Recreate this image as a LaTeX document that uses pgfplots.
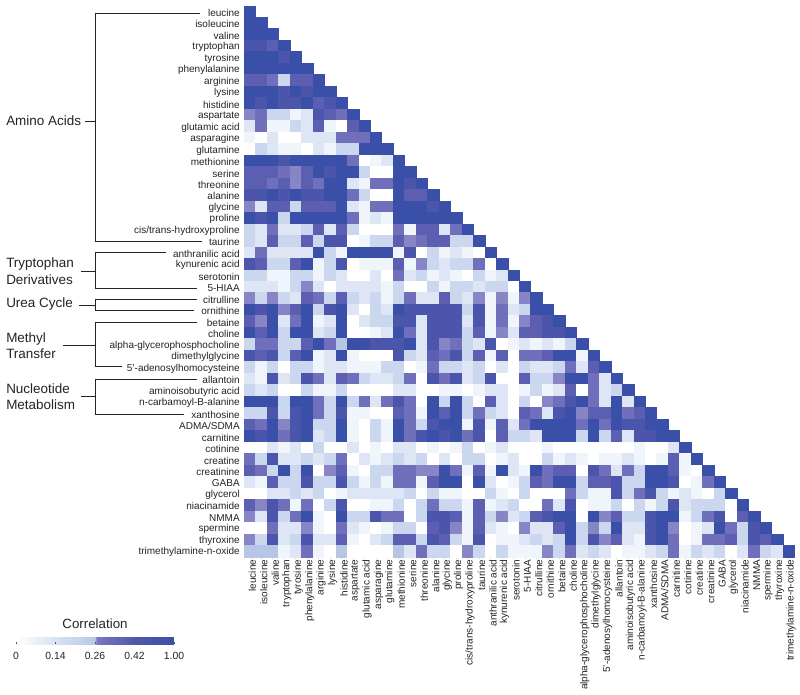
\documentclass[border=0pt]{standalone}
\usepackage{pgfplots}
\usepackage{fontspec}
\setmainfont{Liberation Sans}
\pgfplotsset{compat=1.18}
\definecolor{ink}{RGB}{35,35,40}
\pgfplotsset{
  colormap={corr}{rgb255(0)=(255,255,255); rgb255(4)=(240,244,251); rgb255(9)=(222,230,245); rgb255(15)=(202,215,238); rgb255(22)=(184,198,230); rgb255(26)=(175,190,226); rgb255(27)=(140,138,199); rgb255(33)=(112,111,187); rgb255(40)=(91,94,177); rgb255(55)=(74,85,171); rgb255(100)=(58,80,168)},
  colormap={corrbar}{rgb255(0)=(255,255,255); rgb255(25)=(215,226,244); rgb255(50)=(185,200,232); rgb255(51)=(122,120,190); rgb255(75)=(80,88,172); rgb255(100)=(58,80,168)},
  cell/.style={scatter, only marks, mark=square*, mark size=4.3pt, point meta=explicit, scatter src=explicit, scatter/use mapped color={draw=mapped color, fill=mapped color}, mark options={line width=0.05pt}},
}
\newcommand\rowcells[2]{\addplot[cell] table[row sep=\\,header=false,x expr=\coordindex,y expr=#1,meta index=0]{#2};}
\begin{document}
\begin{tikzpicture}[x=0.75pt,y=-0.75pt]
\path[use as bounding box] (0,0) rectangle (800,695);
\begin{axis}[
  at={(183pt,-417.4pt)}, anchor=south west,
  scale only axis, width=412.5pt, height=413.25pt,
  xmin=-0.5, xmax=47.5, ymin=-0.5, ymax=47.5, y dir=reverse,
  colormap name=corr, point meta min=0, point meta max=100,
  clip=false,
  axis line style={draw=none},
  xtick={0,...,47}, ytick={0,...,47},
  tick align=outside, major tick length=1.5pt,
  x tick style={draw=gray!40,line width=0.3pt}, y tick style={draw=none},
  tick pos=left,
  xticklabels={leucine,isoleucine,valine,tryptophan,tyrosine,phenylalanine,arginine,lysine,histidine,aspartate,glutamic acid,asparagine,glutamine,methionine,serine,threonine,alanine,glycine,proline,cis/trans-hydroxyproline,taurine,anthranilic acid,kynurenic acid,serotonin,5-HIAA,citrulline,ornithine,betaine,choline,alpha-glycerophosphocholine,dimethylglycine,5'-adenosylhomocysteine,allantoin,aminoisobutyric acid,n-carbamoyl-B-alanine,xanthosine,ADMA/SDMA,carnitine,cotinine,creatine,creatinine,GABA,glycerol,niacinamide,NMMA,spermine,thyroxine,trimethylamine-n-oxide},
  yticklabels={leucine,isoleucine,valine,tryptophan,tyrosine,phenylalanine,arginine,lysine,histidine,aspartate,glutamic acid,asparagine,glutamine,methionine,serine,threonine,alanine,glycine,proline,cis/trans-hydroxyproline,taurine,anthranilic acid,kynurenic acid,serotonin,5-HIAA,citrulline,ornithine,betaine,choline,alpha-glycerophosphocholine,dimethylglycine,5'-adenosylhomocysteine,allantoin,aminoisobutyric acid,n-carbamoyl-B-alanine,xanthosine,ADMA/SDMA,carnitine,cotinine,creatine,creatinine,GABA,glycerol,niacinamide,NMMA,spermine,thyroxine,trimethylamine-n-oxide},
  x tick label style={rotate=90, anchor=east, inner sep=0pt, font=\fontsize{7.5}{9}\selectfont, text=ink, yshift=-2pt, xshift=-0.75pt},
  y tick label style={anchor=east, inner sep=0pt, font=\fontsize{7.5}{9}\selectfont, text=ink, xshift=-1.5pt, yshift=-1.1pt},
]
\rowcells{0}{100\\}
\rowcells{1}{100\\100\\}
\rowcells{2}{100\\100\\100\\}
\rowcells{3}{55\\55\\40\\100\\}
\rowcells{4}{100\\100\\100\\55\\100\\}
\rowcells{5}{100\\100\\100\\100\\100\\100\\}
\rowcells{6}{40\\40\\33\\15\\40\\40\\100\\}
\rowcells{7}{100\\100\\100\\55\\100\\55\\100\\100\\}
\rowcells{8}{100\\55\\100\\55\\55\\100\\40\\55\\100\\}
\rowcells{9}{28\\33\\15\\15\\4\\9\\55\\40\\33\\100\\}
\rowcells{10}{9\\33\\4\\4\\15\\9\\40\\4\\0\\40\\100\\}
\rowcells{11}{4\\0\\9\\0\\0\\9\\9\\9\\33\\33\\33\\100\\}
\rowcells{12}{0\\15\\9\\4\\4\\0\\9\\4\\15\\15\\100\\100\\100\\}
\rowcells{13}{100\\100\\100\\55\\100\\100\\100\\100\\100\\33\\0\\4\\9\\100\\}
\rowcells{14}{40\\40\\40\\33\\28\\40\\100\\55\\100\\100\\15\\0\\0\\100\\100\\}
\rowcells{15}{40\\40\\33\\40\\28\\40\\33\\100\\100\\9\\4\\33\\33\\100\\55\\100\\}
\rowcells{16}{55\\55\\100\\55\\100\\55\\55\\100\\100\\33\\15\\0\\0\\100\\40\\40\\100\\}
\rowcells{17}{28\\9\\40\\40\\15\\40\\40\\40\\100\\9\\4\\33\\33\\100\\100\\100\\55\\100\\}
\rowcells{18}{100\\55\\100\\15\\100\\100\\100\\100\\100\\33\\4\\9\\4\\100\\100\\100\\100\\100\\100\\}
\rowcells{19}{15\\9\\33\\9\\9\\15\\40\\9\\40\\15\\0\\0\\0\\33\\4\\40\\40\\9\\33\\100\\}
\rowcells{20}{15\\9\\40\\15\\15\\40\\15\\55\\55\\0\\4\\15\\15\\40\\28\\33\\40\\40\\15\\15\\100\\}
\rowcells{21}{9\\33\\9\\9\\9\\9\\100\\15\\4\\100\\100\\100\\100\\4\\55\\0\\15\\4\\9\\4\\0\\100\\}
\rowcells{22}{55\\40\\15\\15\\40\\100\\4\\15\\55\\0\\4\\4\\4\\40\\4\\28\\15\\9\\15\\15\\33\\0\\100\\}
\rowcells{23}{15\\15\\4\\4\\15\\15\\4\\15\\9\\0\\0\\9\\0\\33\\9\\15\\4\\9\\4\\0\\15\\4\\9\\100\\}
\rowcells{24}{9\\9\\9\\4\\15\\28\\9\\0\\9\\9\\9\\9\\4\\15\\0\\0\\15\\4\\15\\15\\9\\15\\15\\0\\100\\}
\rowcells{25}{28\\15\\28\\15\\9\\40\\33\\15\\40\\15\\9\\15\\4\\15\\33\\9\\9\\40\\15\\9\\28\\4\\28\\4\\28\\100\\}
\rowcells{26}{100\\55\\100\\28\\40\\100\\15\\55\\100\\9\\0\\15\\9\\100\\55\\55\\55\\55\\55\\15\\55\\4\\33\\9\\15\\100\\100\\}
\rowcells{27}{40\\28\\100\\9\\33\\100\\4\\9\\100\\0\\9\\15\\15\\55\\55\\9\\55\\55\\55\\9\\55\\4\\33\\4\\28\\40\\55\\100\\}
\rowcells{28}{100\\40\\100\\15\\100\\100\\9\\15\\100\\0\\0\\4\\9\\100\\33\\9\\55\\55\\55\\15\\40\\4\\28\\9\\40\\40\\55\\55\\100\\}
\rowcells{29}{15\\33\\33\\15\\15\\40\\100\\33\\22\\100\\100\\55\\55\\55\\100\\9\\55\\28\\33\\15\\9\\55\\0\\4\\9\\4\\9\\4\\15\\100\\}
\rowcells{30}{55\\40\\55\\15\\40\\100\\4\\9\\100\\4\\0\\0\\0\\55\\15\\9\\40\\33\\55\\15\\40\\4\\40\\0\\33\\33\\40\\100\\100\\4\\100\\}
\rowcells{31}{15\\4\\15\\0\\15\\15\\4\\9\\9\\4\\4\\4\\15\\15\\0\\4\\33\\15\\15\\9\\15\\0\\9\\0\\15\\9\\9\\15\\33\\9\\40\\100\\}
\rowcells{32}{9\\4\\55\\9\\15\\55\\33\\9\\40\\33\\15\\9\\9\\15\\33\\0\\55\\33\\55\\9\\15\\55\\0\\0\\40\\15\\15\\28\\100\\100\\33\\9\\100\\}
\rowcells{33}{15\\9\\15\\0\\0\\15\\4\\4\\15\\0\\0\\0\\0\\9\\9\\0\\0\\4\\4\\0\\4\\9\\9\\0\\4\\15\\4\\9\\40\\0\\33\\9\\15\\100\\}
\rowcells{34}{100\\100\\100\\15\\100\\100\\33\\15\\100\\15\\33\\9\\33\\55\\33\\0\\100\\15\\100\\15\\0\\40\\9\\0\\15\\0\\28\\33\\55\\100\\33\\9\\100\\9\\100\\}
\rowcells{35}{15\\15\\55\\15\\55\\100\\33\\15\\55\\4\\4\\0\\0\\40\\33\\4\\100\\40\\100\\15\\33\\15\\9\\0\\40\\33\\9\\55\\100\\28\\40\\40\\100\\33\\40\\100\\}
\rowcells{36}{40\\33\\100\\28\\55\\100\\15\\15\\100\\4\\0\\15\\4\\100\\33\\15\\55\\100\\100\\4\\55\\4\\40\\9\\33\\100\\100\\100\\100\\33\\100\\33\\100\\55\\55\\100\\100\\}
\rowcells{37}{100\\55\\100\\33\\55\\100\\9\\15\\100\\4\\0\\15\\4\\100\\33\\55\\100\\55\\100\\33\\55\\0\\40\\15\\15\\9\\100\\100\\100\\15\\100\\15\\40\\9\\55\\55\\100\\100\\}
\rowcells{38}{0\\0\\9\\4\\9\\0\\15\\0\\0\\9\\0\\4\\0\\9\\9\\0\\4\\0\\4\\15\\0\\4\\9\\0\\0\\0\\4\\0\\0\\0\\0\\0\\0\\0\\4\\0\\0\\9\\100\\}
\rowcells{39}{33\\15\\55\\9\\9\\15\\9\\15\\33\\0\\9\\4\\9\\15\\9\\15\\0\\9\\0\\15\\15\\0\\4\\9\\0\\0\\15\\4\\9\\4\\0\\4\\4\\9\\4\\0\\4\\40\\4\\100\\}
\rowcells{40}{40\\33\\15\\100\\15\\100\\0\\28\\40\\4\\0\\15\\15\\33\\33\\28\\28\\100\\33\\4\\40\\4\\100\\9\\4\\100\\33\\40\\40\\0\\55\\33\\9\\33\\15\\100\\100\\40\\4\\0\\100\\}
\rowcells{41}{9\\4\\40\\15\\15\\55\\15\\15\\55\\15\\4\\15\\4\\33\\33\\4\\40\\100\\100\\0\\100\\9\\0\\4\\15\\40\\33\\100\\100\\15\\40\\40\\55\\15\\15\\100\\100\\55\\0\\4\\33\\100\\}
\rowcells{42}{0\\0\\9\\9\\15\\9\\15\\0\\4\\9\\9\\9\\9\\9\\15\\0\\15\\4\\4\\0\\0\\15\\4\\0\\15\\0\\0\\0\\33\\15\\4\\4\\55\\15\\33\\55\\15\\4\\9\\4\\0\\15\\100\\}
\rowcells{43}{40\\28\\55\\33\\4\\33\\0\\15\\55\\0\\0\\4\\4\\15\\0\\15\\33\\15\\15\\4\\40\\4\\9\\15\\0\\0\\33\\9\\55\\0\\4\\4\\15\\0\\15\\4\\15\\55\\9\\15\\15\\15\\0\\100\\}
\rowcells{44}{28\\9\\55\\15\\33\\100\\4\\0\\100\\15\\15\\55\\33\\33\\0\\15\\55\\55\\40\\4\\40\\15\\28\\9\\15\\40\\55\\100\\100\\0\\100\\28\\40\\15\\15\\55\\100\\100\\4\\15\\33\\55\\0\\40\\100\\}
\rowcells{45}{0\\0\\33\\9\\9\\28\\4\\0\\33\\9\\4\\0\\4\\15\\15\\0\\40\\55\\28\\4\\40\\9\\4\\0\\28\\9\\9\\40\\100\\15\\28\\15\\100\\9\\9\\55\\100\\28\\0\\4\\9\\100\\33\\15\\55\\100\\}
\rowcells{46}{28\\15\\55\\9\\15\\55\\9\\9\\40\\4\\0\\9\\15\\40\\40\\15\\55\\40\\15\\4\\55\\0\\4\\4\\9\\15\\9\\15\\100\\15\\55\\28\\40\\9\\4\\55\\100\\33\\0\\4\\33\\33\\40\\15\\55\\40\\100\\}
\rowcells{47}{22\\22\\22\\4\\9\\33\\4\\0\\22\\0\\0\\0\\0\\22\\9\\33\\15\\15\\0\\28\\15\\0\\15\\4\\4\\4\\28\\15\\33\\9\\15\\9\\0\\4\\4\\9\\15\\33\\4\\15\\9\\15\\0\\9\\33\\15\\9\\100\\}
\end{axis}
% group brackets
\begin{scope}[line width=1pt, draw=ink]
\draw (200,13.5)--(95.5,13.5)--(95.5,241.5)--(202,241.5);
\draw (85,121.5)--(95.5,121.5);
\draw (166,252.5)--(95.5,252.5)--(95.5,288.5)--(197,288.5);
\draw (81,271.5)--(95.5,271.5);
\draw (197,299.5)--(95.5,299.5)--(95.5,310.5)--(194,310.5);
\draw (79,305.5)--(95.5,305.5);
\draw (197,322.5)--(95.5,322.5)--(95.5,366.5)--(122,366.5);
\draw (63,345.5)--(95.5,345.5);
\draw (197,379.5)--(95.5,379.5)--(95.5,414.5)--(184,414.5);
\draw (81,396.5)--(95.5,396.5);
\end{scope}
\begin{scope}[every node/.style={anchor=west, inner sep=0pt, text=ink, font=\fontsize{10.1}{12}\selectfont}]
\node at (6,121) {Amino Acids};
\node at (6,264) {Tryptophan};
\node at (6,279.5) {Derivatives};
\node at (6,304.5) {Urea Cycle};
\node at (6,338.7) {Methyl};
\node at (6,354) {Transfer};
\node at (6,389) {Nucleotide};
\node at (6,405) {Metabolism};
\end{scope}
\node[text=ink, inner sep=0pt, font=\fontsize{10}{12}\selectfont] at (95,624) {Correlation};
\pgfplotscolorbardrawstandalone[
  colormap name=corrbar, point meta min=0, point meta max=4,
  colorbar horizontal,
  colorbar style={
    at={(12pt,-474.75pt)}, anchor=south west,
    scale only axis, width=118.5pt, height=5pt,
    axis line style={draw=none},
    xtick={0,1,2,3,4}, xticklabels={0,0.14,0.26,0.42,1.00},
    ytick=\empty, xtick pos=bottom,
    x tick style={draw=gray!70!black, line width=0.5pt},
    major tick length=1.5pt,
    x tick label style={font=\fontsize{7.8}{9}\selectfont, text=ink, inner sep=0pt, yshift=-6pt},
  }]
\end{tikzpicture}
\end{document}
